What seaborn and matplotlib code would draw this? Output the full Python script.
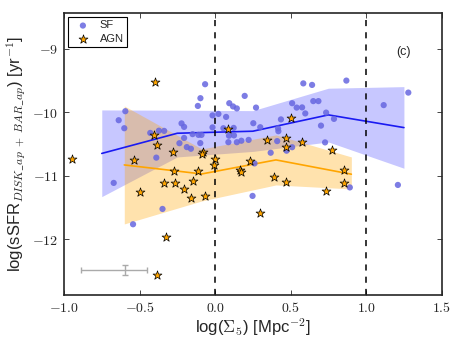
import numpy as np
import pandas as pd
import matplotlib
matplotlib.use("Agg")
import matplotlib.pyplot as plt
import seaborn as sns
from matplotlib.ticker import FuncFormatter

# ---------------- data ----------------
sf_x = [-0.066, -0.097, -0.114, -0.594, -0.638, -0.601, -0.222, -0.205, -0.429, -0.372,
        -0.337, -0.017, 0.022, 0.073, -0.017, -0.236, -0.205, -0.149, -0.110, -0.090,
        -0.098, -0.187, -0.160, -0.389, -0.671, -0.348, -0.543, 0.094, 0.119, 0.144,
        0.196, 0.271, 0.055, 0.123, 0.092, 0.125, 0.088, 0.144, 0.174, 0.222,
        0.253, 0.299, 0.261, 0.248, 0.368, 0.411, 0.417, 0.419, 0.436, 0.473,
        0.510, 0.510, 0.540, 0.576, 0.584, 0.642, 0.650, 0.684, 0.597, 0.701,
        0.728, 0.735, 0.787, 0.869, 1.116, 1.279, 0.892, 1.210]
sf_y = [-9.556, -9.776, -9.898, -9.981, -10.123, -10.249, -10.173, -10.228, -10.323, -10.288,
        -10.291, -10.047, -10.024, -10.071, -10.236, -10.485, -10.402, -10.342, -10.354, -10.354,
        -10.483, -10.546, -10.572, -10.712, -11.110, -11.520, -11.761, -9.855, -9.906, -9.937,
        -9.740, -9.924, -10.249, -10.244, -10.367, -10.362, -10.469, -10.469, -10.446, -10.433,
        -10.170, -10.233, -10.803, -11.315, -10.635, -10.452, -10.252, -10.296, -10.110, -10.603,
        -10.548, -9.855, -9.924, -9.921, -9.543, -9.567, -9.822, -9.822, -10.016, -10.208,
        -10.472, -10.003, -10.102, -9.499, -9.885, -9.688, -11.181, -11.142]

agn_x = [-0.398, -0.949, -0.401, -0.386, -0.279, -0.539, -0.079, -0.088, 0.002, -0.009,
         -0.272, -0.111, -0.336, -0.263, -0.206, -0.147, -0.160, -0.066, -0.500, -0.323,
         -0.387, 0.084, 0.167, 0.172, 0.228, 0.342, 0.472, 0.472, 0.505, 0.576,
         0.777, 0.853, 0.389, 0.472, 0.853, 0.735, 0.297]
agn_y = [-9.520, -10.737, -10.362, -10.515, -10.630, -10.742, -10.627, -10.650, -10.728, -10.824,
         -10.929, -10.918, -11.118, -11.106, -11.202, -11.087, -11.351, -11.323, -11.249, -11.965,
         -12.554, -10.265, -10.906, -10.934, -10.764, -10.438, -10.405, -10.539, -10.094, -10.465,
         -10.598, -10.906, -11.020, -11.099, -11.115, -11.241, -11.591]

sf_bin_x = [-0.75, -0.25, 0.25, 0.75, 1.25]
sf_med = [-10.646, -10.328, -10.296, -10.039, -10.239]
sf_hi = [-9.961, -9.965, -9.972, -9.619, -9.594]
sf_lo = [-11.326, -10.701, -10.614, -10.465, -10.879]

agn_bin_x = [-0.601, -0.088, 0.403, 0.902]
agn_med = [-10.827, -10.969, -10.748, -10.973]
agn_hi = [-9.898, -10.575, -10.354, -10.701]
agn_lo = [-11.756, -11.394, -11.142, -11.205]

err_x, err_y = -0.594, -12.48
err_xlo, err_xhi = 0.292, 0.143
err_y_half = 0.073

x_ticks = [-1.0, -0.5, 0.0, 0.5, 1.0, 1.5]
y_ticks = [-12, -11, -10, -9]
vlines = [0.0, 1.0]

# ---------------- style ----------------
sns.set_style("ticks")
plt.rcParams["font.family"] = ["Liberation Sans", "DejaVu Sans"]
plt.rcParams["mathtext.fontset"] = "cm"
plt.rcParams["axes.unicode_minus"] = True

fig = plt.figure(figsize=(4.63, 3.48), dpi=100)
ax = fig.add_axes([64/463, 1-295/348, (441.7-64)/463, (295-12.7)/348])

blue_pt = (0.40, 0.40, 0.88)
blue_line = (0.1, 0.1, 0.95)
orange = "#ffa500"

# bands
ax.fill_between(sf_bin_x, sf_lo, sf_hi, color="blue", alpha=0.22, lw=0, zorder=1)
ax.fill_between(agn_bin_x, agn_lo, agn_hi, color=orange, alpha=0.32, lw=0, zorder=1)

sf_df = pd.DataFrame({"x": sf_x, "y": sf_y})
agn_df = pd.DataFrame({"x": agn_x, "y": agn_y})
sns.scatterplot(data=sf_df, x="x", y="y", ax=ax, color=blue_pt, marker="o", s=20,
                edgecolor="none", alpha=0.85, label="SF", zorder=3)
sns.scatterplot(data=agn_df, x="x", y="y", ax=ax, color=orange, marker="*", s=45,
                edgecolor="black", linewidth=0.5, label="AGN", zorder=4)

sns.lineplot(x=sf_bin_x, y=sf_med, ax=ax, color=blue_line, lw=1.2, zorder=2, legend=False)
sns.lineplot(x=agn_bin_x, y=agn_med, ax=ax, color=orange, lw=1.2, zorder=2, legend=False)

for v in vlines:
    ax.axvline(v, color="black", ls=(0, (4, 4)), lw=1.1, zorder=2)

ax.errorbar([err_x], [err_y], xerr=[[err_xlo], [err_xhi]], yerr=[[err_y_half], [err_y_half]],
            fmt="none", ecolor="#aaaaaa", elinewidth=1.0, capsize=2.5, capthick=1.0, zorder=2)

ax.text(1.245, -9.055, "(c)", fontsize=9, ha="center", va="center")

ax.set_xlim(-1.0, 1.5)
ax.set_ylim(-12.875, -8.43)
ax.set_xticks(x_ticks)
ax.set_yticks(y_ticks)
ax.xaxis.set_major_formatter(FuncFormatter(lambda v, p: r"$%.1f$" % v))
ax.yaxis.set_major_formatter(FuncFormatter(lambda v, p: r"$%d$" % int(round(v))))
ax.tick_params(direction="in", top=True, right=True, length=3.5, width=0.6,
               labelsize=10, pad=4)
for s in ax.spines.values():
    s.set_linewidth(1.2)

ax.set_xlabel(r"log($\Sigma_5$) [Mpc$^{-2}$]", fontsize=12, labelpad=1)
ax.set_ylabel(r"log(sSFR$_{DISK\_ap\ +\ BAR\_ap}$) [yr$^{-1}$]", fontsize=12)
ax.yaxis.set_label_coords(-0.096, 0.5)

leg = ax.legend(loc="upper left", fontsize=8, frameon=True, fancybox=False,
                scatterpoints=1, borderpad=0.3, handletextpad=0.5, labelspacing=0.3,
                borderaxespad=0.4, framealpha=1)
leg.get_frame().set_edgecolor("black")
leg.get_frame().set_linewidth(0.8)

fig.savefig("out.png", dpi=100)
